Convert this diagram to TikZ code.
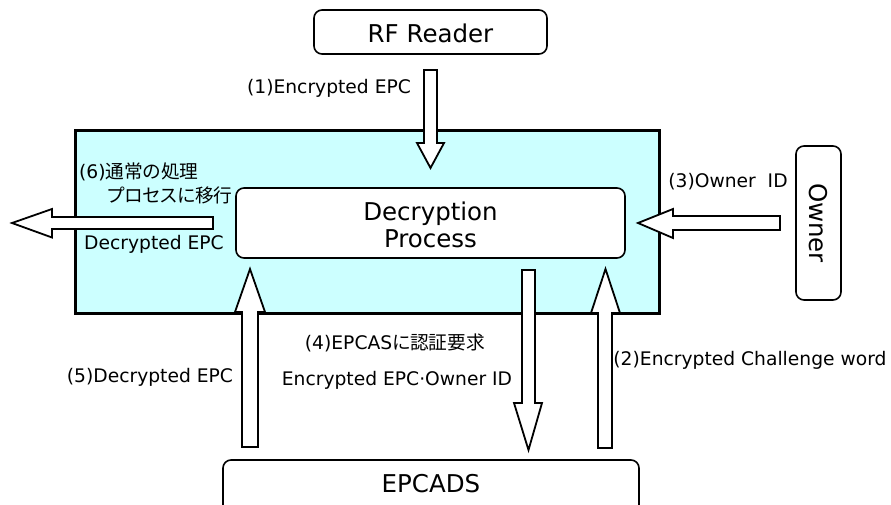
\documentclass[tikz,border=0pt]{standalone}
\usepackage{fontspec}
\setmainfont{DejaVu Sans}
\newfontfamily\cjk[RawFeature=+palt]{Noto Sans CJK JP}
\definecolor{paleCyan}{RGB}{204,255,255}
\begin{document}
\begin{tikzpicture}[x=1pt,y=-1pt,
  box/.style={draw,line width=1.6pt,rounded corners=8pt,fill=white},
  boxtext/.style={font=\fontsize{24.5}{27}\selectfont},
  lbl/.style={font=\fontsize{18.7}{22}\selectfont,inner sep=0pt},
  blockarrow/.style={draw,line width=1.8pt,fill=white,line join=miter}]
\useasboundingbox (0,0) rectangle (891,504);
\clip (0,0) rectangle (891,504);

% system area
\draw[line width=3pt,fill=paleCyan] (75,130) rectangle (659,313);

% boxes
\draw[box] (314,10) rectangle (547,54);
\node[boxtext] (reader) at (430.5,33) {RF Reader};

\draw[box] (236,188) rectangle (625,258);
\node[boxtext,align=center] (proc) at (430.5,225) {Decryption\\Process};

\draw[box] (796,146) rectangle (841,300);
\node[boxtext,rotate=-90] (owner) at (818.5,223) {Owner};

\draw[box] (223,460) rectangle (639,530);
\node[boxtext] (epcads) at (431,484) {EPCADS};

% (1) reader -> decryption
\draw[blockarrow] (424,70) -- (437,70) -- (437,143) -- (444,143) -- (430.5,168)
  -- (417,143) -- (424,143) -- cycle;
% (6) out to normal processing
\draw[blockarrow] (213,217) -- (213,229) -- (52,229) -- (52,237.5) -- (12,223)
  -- (52,209) -- (52,217) -- cycle;
% (3) owner -> decryption
\draw[blockarrow] (780,216) -- (780,230) -- (673,230) -- (673,238) -- (638,223)
  -- (673,209) -- (673,216) -- cycle;
% (5) EPCADS -> decryption
\draw[blockarrow] (242,447) -- (242,312) -- (235,312) -- (250,269) -- (265,312)
  -- (258,312) -- (258,447) -- cycle;
% (4) decryption -> EPCADS
\draw[blockarrow] (522,270) -- (535,270) -- (535,403) -- (542,403) -- (528.5,450)
  -- (514,403) -- (522,403) -- cycle;
% (2) EPCADS -> decryption
\draw[blockarrow] (598,448) -- (598,313) -- (591,313) -- (605.5,269) -- (620,313)
  -- (612,313) -- (612,448) -- cycle;

% labels
\node[lbl] (l1) at (329,88) {(1)Encrypted EPC};
\node[lbl,anchor=west] (l6a) at (79,172) {(6){\cjk 通常の処理}};
\node[lbl,anchor=west] (l6b) at (107,195) {\cjk プロセスに移行};
\node[lbl] (l6c) at (154,244) {Decrypted EPC};
\node[lbl] (l3) at (728,182) {(3)Owner\ \ ID};
\node[lbl] (l4a) at (395,343) {(4)EPCAS{\cjk に認証要求}};
\node[lbl] (l4b) at (397,380) {Encrypted EPC·Owner ID};
\node[lbl] (l5) at (150,377) {(5)Decrypted EPC};
\node[lbl] (l2) at (750,360) {(2)Encrypted Challenge word};
\end{tikzpicture}
\end{document}
